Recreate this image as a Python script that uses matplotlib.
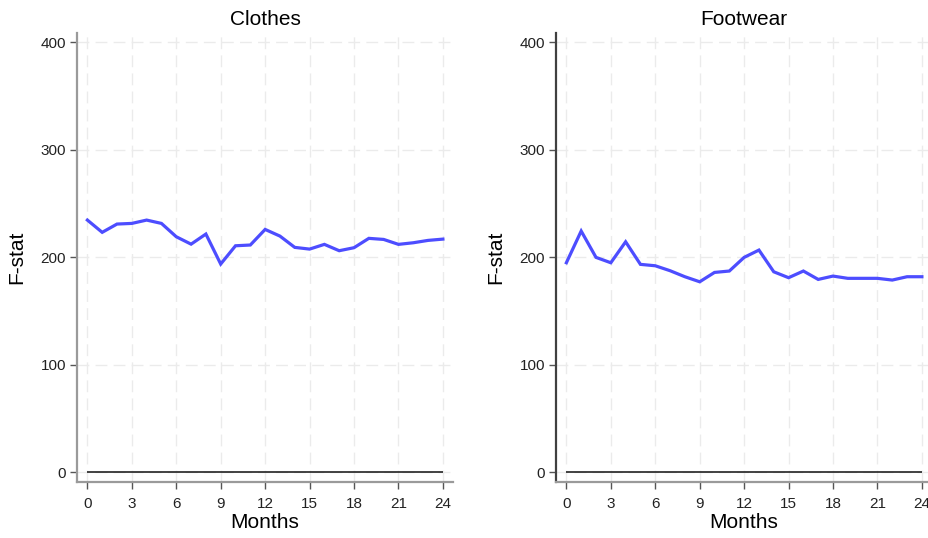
import numpy as np
import matplotlib.pyplot as plt

# ── data ────────────────────────────────────────────────────────────────────
months = list(range(25))
clothes_f = [234.4, 223.0, 230.7, 231.3, 234.4, 231.3, 218.9, 212.0, 221.4,
             193.5, 210.5, 211.2, 225.7, 219.5, 209.0, 207.4, 211.8, 205.9,
             208.7, 217.4, 216.4, 211.8, 213.3, 215.5, 216.7]
footwear_f = [194.7, 224.2, 199.7, 194.7, 214.2, 193.2, 191.9, 187.3, 181.7,
              177.0, 185.7, 187.0, 199.7, 206.5, 186.3, 180.8, 187.0, 179.2,
              182.3, 180.2, 180.2, 180.2, 178.6, 181.7, 181.7]
panel_titles = ["Clothes", "Footwear"]
x_ticks = list(range(0, 25, 3))
y_ticks = [0, 100, 200, 300, 400]
# ────────────────────────────────────────────────────────────────────────────

plt.rcParams["font.family"] = ["Liberation Sans", "DejaVu Sans"]

LINE_COLOR = "#4d4dff"
GRID_COLOR = "#ebebeb"

fig = plt.figure(figsize=(9.29, 5.38), dpi=100)
ax_left = fig.add_axes([0.0829, 0.104, 0.405, 0.8346])
ax_right = fig.add_axes([0.5985, 0.104, 0.405, 0.8346])

series = [clothes_f, footwear_f]
spine_colors = ["#9a9a9a", "#404040"]

for ax, title, values, lcol in zip([ax_left, ax_right], panel_titles, series, spine_colors):
    ax.set_xlim(-0.7, 24.7)
    ax.set_ylim(-9.3, 408.4)
    ax.set_xticks(x_ticks)
    ax.set_yticks(y_ticks)

    for t in x_ticks:
        ax.axvline(t, color=GRID_COLOR, lw=1.0, ls=(0, (8.5, 4.5)), zorder=0)
    for t in y_ticks:
        ax.axhline(t, color=GRID_COLOR, lw=1.0, ls=(0, (8.5, 4.5)), zorder=0)

    ax.hlines(0, months[0], months[-1], color="#222222", lw=1.2, zorder=2)
    ax.plot(months, values, color=LINE_COLOR, lw=2.3, solid_joinstyle="miter", zorder=3)

    for side in ["top", "right"]:
        ax.spines[side].set_visible(False)
    ax.spines["left"].set_color(lcol)
    ax.spines["left"].set_linewidth(1.6)
    ax.spines["bottom"].set_color("#9a9a9a")
    ax.spines["bottom"].set_linewidth(1.6)

    ax.tick_params(axis="both", direction="out", length=5, width=1,
                   color="#555555", labelsize=11, labelcolor="#222222")
    ax.tick_params(axis="x", pad=6)
    ax.tick_params(axis="y", pad=3)

    ax.set_title(title, fontsize=15, pad=6)
    ax.set_xlabel("Months", fontsize=15, labelpad=1)
    ax.set_ylabel("F-stat", fontsize=15, labelpad=10)

fig.savefig("out.png", dpi=100)
